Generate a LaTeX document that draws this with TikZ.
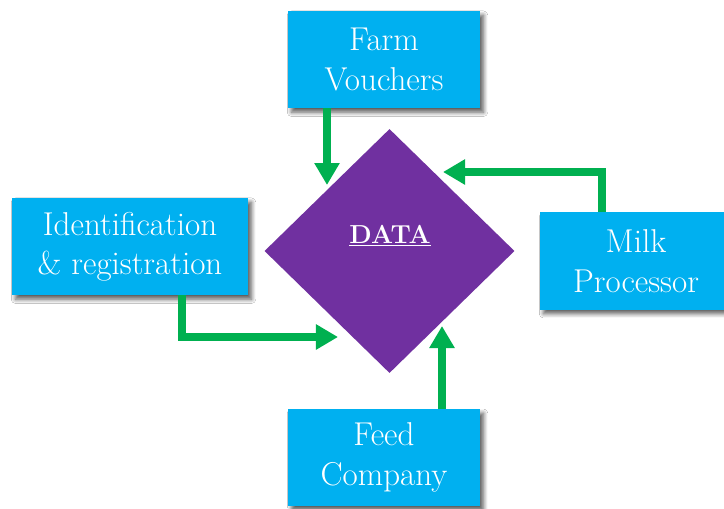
\documentclass[tikz,border=0pt]{standalone}
\usetikzlibrary{shapes.geometric,arrows.meta,shadows.blur}

\definecolor{boxblue}{HTML}{00B0F0}
\definecolor{datapurple}{HTML}{7030A0}
\definecolor{flowgreen}{HTML}{00B050}

\tikzset{
  box/.style={fill=boxblue, text=white, align=center,
    minimum width=4.8cm, minimum height=2.425cm, inner sep=0pt,
    font=\fontsize{23.5}{28}\selectfont,
    blur shadow={shadow xshift=2.5pt, shadow yshift=-3pt,
      shadow blur radius=3pt, shadow blur steps=8, shadow opacity=65}},
  datashape/.style={diamond, fill=datapurple, inner sep=0pt,
    minimum width=6.25cm, minimum height=6.1cm},
  flow/.style={draw=flowgreen, line width=0.18cm,
    -{Triangle[width=0.6cm,length=0.55cm]}}
}

\begin{document}
\begin{tikzpicture}[x=0.025cm, y=-0.025cm]
  \useasboundingbox (0,0) rectangle (724,508);
  \fill[white] (0,0) rectangle (724,508);

  % centre piece
  \node[datashape] (data) at (389.5,251) {};
  \node[text=white, font=\fontsize{18.5}{20}\selectfont\bfseries]
    (datatext) at (390,236) {\underline{DATA}};

  % sources round it
  \node[box] (farm) at (384,59.5) {Farm\\Vouchers};
  \node[box, minimum width=5.9cm] (ident) at (130,246.5) {Identification\\\& registration};
  \node[box] (milk) at (636,261) {Milk\\Processor};
  \node[box] (feed) at (384,457.5) {Feed\\Company};

  % arrow tips next to the diamond
  \coordinate (inFarm) at (327,185);
  \coordinate (inMilk) at (443,172);
  \coordinate (inIdent) at (338,337);
  \coordinate (inFeed) at (442,326);

  \begin{scope}[flow]
    \draw (farm.south -| inFarm) -- (inFarm);
    \draw ([xshift=-0.85cm]milk.north) |- (inMilk);
    \draw ([xshift=1.3cm]ident.south) |- (inIdent);
    \draw (feed.north -| inFeed) -- (inFeed);
  \end{scope}
\end{tikzpicture}
\end{document}
